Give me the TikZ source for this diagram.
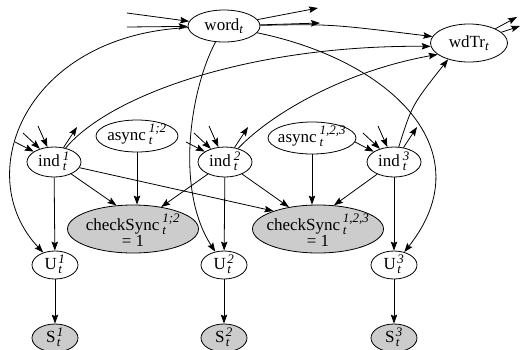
\documentclass[tikz,border=0pt]{standalone}
\usepackage{amsmath}
\usepackage{fontspec}
\setmainfont{Liberation Serif}
\usetikzlibrary{shapes.geometric,arrows.meta}
\newcommand{\sfs}{\fontsize{13}{13}\selectfont\itshape}
\newcommand{\lb}[1]{\makebox[0pt]{\raisebox{-4.5pt}[0pt][0pt]{#1}}}
\newcommand{\lbb}[2]{\makebox[0pt]{\raisebox{-1pt}[0pt][0pt]{#1}}\makebox[0pt]{\raisebox{-17pt}[0pt][0pt]{#2}}}
\newcommand{\st}[2]{\,$^{\hbox{\sfs #1}}_{\hbox{\sfs #2}}$}
\newcommand{\sst}[2]{\hspace{1.5pt}$^{\hbox{\sfs #1}}_{\hbox{\sfs #2}}$}
\begin{document}
\begin{tikzpicture}[x=1pt,y=-1pt,font=\fontsize{17}{18}\selectfont,
  nd/.style={ellipse,draw,line width=0.8pt,inner sep=0pt,fill=white},
  gr/.style={nd,fill=black!20},
  indn/.style={nd,minimum width=54pt,minimum height=30pt},
  un/.style={nd,minimum width=46pt,minimum height=28pt},
  sn/.style={gr,minimum width=46pt,minimum height=28pt},
  asn/.style={nd,minimum height=32pt},
  csn/.style={gr,minimum width=131pt,minimum height=48pt},
  arr/.style={line width=0.8pt,-{Stealth[length=9pt,width=6.5pt,inset=1.5pt]}}]
\useasboundingbox (0,0) rectangle (522,349);
% nodes
\node[nd,minimum width=72pt,minimum height=32pt] (word) at (224,26) {\lb{word$_{\hbox{\sfs t}}$}};
\node[nd,minimum width=77pt,minimum height=38pt] (wdTr) at (469,43) {\lb{wdTr$_{\hbox{\sfs t}}$}};
\node[indn] (ind1) at (54,162) {\lb{ind\st{1}{t}}};
\node[indn] (ind2) at (225,162) {\lb{ind\st{2}{t}}};
\node[indn] (ind3) at (394,162) {\lb{ind\st{3}{t}}};
\node[asn,minimum width=82pt] (as12) at (137,136) {\lb{async\st{1;2}{t}}};
\node[asn,minimum width=88pt] (as123) at (312,138) {\lb{async\st{1,2,3}{t}}};
\node[csn] (cs12) at (133,229) {\lbb{checkSync\st{1;2}{t}}{= 1}};
\node[csn] (cs123) at (318,229) {\lbb{checkSync\st{1,2,3}{t}}{= 1}};
\node[un] (U1) at (55,265) {\lb{U\sst{1}{t}}};
\node[un] (U2) at (224,265) {\lb{U\sst{2}{t}}};
\node[un] (U3) at (394,265) {\lb{U\sst{3}{t}}};
\node[sn] (S1) at (55,338) {\lb{S\sst{1}{t}}};
\node[sn] (S2) at (224,338) {\lb{S\sst{2}{t}}};
\node[sn] (S3) at (394,338) {\lb{S\sst{3}{t}}};
% stub coordinates
\coordinate (wi1) at (127,13);
\coordinate (wi2) at (127,27);
\coordinate (wo1) at (318,8);
\coordinate (wo2) at (320,23);
\coordinate (dto1) at (517,17);
\coordinate (dto2) at (520,26);
\foreach \n/\x in {1/54,2/225,3/394}{
  \coordinate (i\n a) at (\x-39,142);
  \coordinate (i\n b) at (\x-31,133);
  \coordinate (i\n c) at (\x-16,126);
  \coordinate (i\n o) at (\x+23,127);
  \draw[arr] (i\n a) -- (ind\n);
  \draw[arr] (i\n b) -- (ind\n);
  \draw[arr] (i\n c) -- (ind\n);
  \draw[arr] (ind\n) -- (i\n o);
  \draw[arr] (ind\n) -- (U\n);
  \draw[arr] (U\n) -- (S\n);
}
% word stubs
\draw[arr] (wi1) -- (word);
\draw[arr] (wi2) -- (word);
\draw[arr] (word) -- (wo1);
\draw[arr] (word) -- (wo2);
\draw[arr] (wdTr) -- (dto1);
\draw[arr] (wdTr) -- (dto2);
% word edges
\draw[arr] (word) .. controls (330,24) .. (wdTr.170);
\draw[arr] (word) .. controls (25,35) and (-30,175) .. (U1);
\draw[arr] (word) .. controls (190,90) and (175,190) .. (U2);
\draw[arr] (word) .. controls (390,60) and (485,150) .. (U3);
% ind to wdTr
\draw[arr] (ind1) .. controls (110,95) and (250,45) .. (wdTr.185);
\draw[arr] (ind2) .. controls (275,110) and (350,70) .. (wdTr.200);
\draw[arr] (ind3) .. controls (412,105) .. (wdTr.218);
% to checkSync
\draw[arr] (ind1) -- (cs12.125);
\draw[arr] (ind2) -- (cs12.38);
\draw[arr] (as12) -- (as12 |- cs12.north);
\draw[arr] (ind1) -- (cs123.158);
\draw[arr] (ind2) -- (cs123.143);
\draw[arr] (as123) -- (as123 |- cs123.north);
\draw[arr] (ind3) -- (cs123.56);
\end{tikzpicture}
\end{document}
